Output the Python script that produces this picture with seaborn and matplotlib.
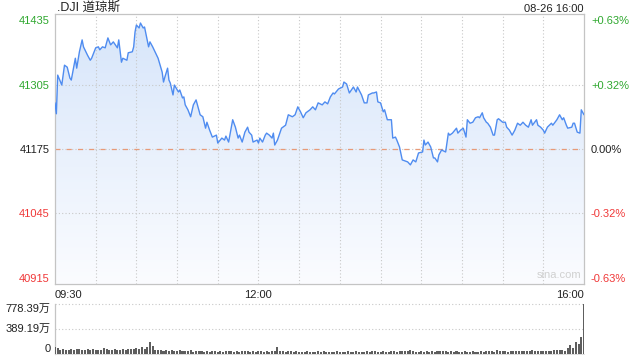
import numpy as np
import matplotlib
matplotlib.use("Agg")
import matplotlib.pyplot as plt
from matplotlib.colors import LinearSegmentedColormap
from matplotlib.patches import PathPatch
import seaborn as sns

# minutes after 09:30 and index level
minutes = [0, 1, 2, 5, 7, 9, 11, 12, 15, 16, 18, 20, 21, 24, 26, 27, 30, 32, 33, 35,
           37, 39, 41, 43, 46, 47, 49, 50, 53, 54, 57, 58, 59, 60, 62, 63, 65, 66, 69, 70,
           72, 75, 76, 79, 80, 81, 83, 84, 85, 87, 88, 91, 92, 94, 95, 96, 98, 100, 102, 104,
           105, 107, 109, 111, 112, 114, 116, 119, 120, 123, 125, 126, 128,
           131, 133, 135, 136, 138, 140, 142, 143, 145, 146, 149, 150, 151, 153, 155, 156, 158, 160,
           161, 162, 164, 167, 170, 172, 175, 177, 179, 181, 183, 185, 188, 190, 192, 194, 197, 199,
           201, 203, 205, 206, 209, 212, 213, 215, 217, 220, 222, 223, 226, 228, 230, 231, 234, 235,
           237, 238, 240, 242, 243, 245, 248, 249, 251, 252, 254, 256, 258, 260, 262, 264, 266, 268,
           271, 272, 273, 275, 277, 279, 280, 282, 283, 285, 288, 290, 291, 293, 296, 297, 299, 301,
           303, 304, 306, 308, 310, 312, 313, 315, 316, 318, 319, 321, 323, 324, 326, 327, 330, 332,
           333, 335, 337, 339, 341, 343, 345, 347, 349, 351, 352, 355, 356, 358, 360, 361, 363, 366,
           367, 370, 372, 374, 375, 377, 378, 381, 382, 383, 385, 387, 388, 390]
prices = [41268, 41246, 41324, 41304, 41344, 41340, 41318, 41314, 41358, 41338, 41371, 41395,
          41381, 41364, 41354, 41358, 41379, 41381, 41375, 41381, 41379, 41399, 41385, 41391,
          41379, 41395, 41350, 41358, 41354, 41369, 41371, 41381, 41411, 41425, 41419, 41429,
          41419, 41421, 41381, 41391, 41381, 41364, 41358, 41330, 41310, 41320, 41338, 41314,
          41308, 41284, 41304, 41290, 41294, 41278, 41280, 41264, 41254, 41240, 41264, 41274,
          41264, 41244, 41240, 41217, 41229, 41213, 41199, 41203, 41187, 41197, 41193, 41201, 41189,
          41234, 41219, 41197, 41203, 41189, 41209, 41219, 41209, 41203, 41189, 41193, 41187, 41197,
          41189, 41203, 41207, 41203, 41197, 41207, 41183, 41193, 41217, 41223, 41244, 41240, 41244,
          41260, 41250, 41238, 41248, 41254, 41260, 41254, 41268, 41264, 41270, 41266, 41280, 41288,
          41286, 41296, 41300, 41310, 41306, 41288, 41300, 41290, 41300, 41284, 41268, 41268, 41284,
          41288, 41288, 41290, 41270, 41268, 41250, 41254, 41234, 41234, 41197, 41199, 41193, 41179,
          41153, 41151, 41149, 41143, 41153, 41149, 41167, 41169, 41193, 41183, 41189, 41179, 41157,
          41157, 41149, 41163, 41173, 41169, 41207, 41203, 41207, 41217, 41207, 41213, 41217, 41199,
          41234, 41227, 41229, 41238, 41240, 41238, 41248, 41238, 41229, 41227, 41219, 41203, 41203,
          41234, 41236, 41229, 41229, 41219, 41213, 41203, 41213, 41227, 41223, 41229, 41223, 41219,
          41234, 41223, 41234, 41223, 41219, 41213, 41207, 41219, 41227, 41223, 41234, 41244, 41234,
          41238, 41223, 41217, 41219, 41227, 41227, 41209, 41207, 41254, 41244]

# volume (万) in 2-minute buckets from 09:30 to 16:00
volume = [110, 95, 70, 75, 60, 68, 80, 62, 75, 85, 70, 60, 78, 55, 72, 65, 60, 70, 98, 75,
          68, 60, 72, 65, 70, 80, 62, 78, 85, 72, 90, 80, 105, 85, 110, 187,
          125, 65, 55, 60, 50, 58, 48, 55, 52, 45, 60, 48, 50, 42, 55, 38, 45, 40, 48, 35,
          42, 38, 45, 40, 35, 42, 38, 45, 40,
          40, 35, 42, 38, 45, 40, 48, 36, 42, 38, 45, 40, 35, 42, 38, 40, 45, 109, 50, 42,
          38, 45, 40, 36, 42, 35, 38, 32, 40, 35, 38, 30, 42, 35, 40, 33, 38, 30, 35, 40,
          32, 38, 35, 42, 36, 33, 40, 35, 38, 32, 42, 36, 40, 45, 38, 35, 42, 38, 33, 40,
          45, 38, 42, 40, 48, 44,
          55, 40, 35, 38, 42, 36, 40, 35, 45, 38, 42, 48, 40, 45, 38, 42, 36, 40, 38, 35,
          42, 38, 33, 40, 36, 38, 42, 35, 40, 45, 42, 38, 55, 40, 45, 42, 38, 45, 50, 42,
          48, 40, 52, 45, 48, 55, 42, 50, 45, 48, 42, 50, 46, 55,
          55, 62, 60, 47, 95, 140, 100, 187, 150, 265, 778.39]
vol_minutes = list(range(0, 391, 2))

prev_close = 41175
price_ticks = [40915, 41045, 41175, 41305, 41435]
pct_labels = ["-0.63%", "-0.32%", "0.00%", "+0.32%", "+0.63%"]
time_ticks = [0, 150, 390]
time_labels = ["09:30", "12:00", "16:00"]
vol_ticks = [0, 389.19, 778.39]
vol_labels = ["0", "389.19万", "778.39万"]

sns.set_style("white")
plt.rcParams["font.family"] = ["Liberation Sans", "Noto Sans CJK SC", "DejaVu Sans"]

GREEN = "#2fa82f"
RED = "#f03838"
GRID = "#c8c8c8"
tick_colors = [RED, RED, "#222222", GREEN, GREEN]

fig = plt.figure(figsize=(6.4, 3.6), dpi=100)
ax = fig.add_axes([55 / 640, 1 - 284 / 360, 529 / 640, 270 / 360])
vax = fig.add_axes([55 / 640, 1 - 354 / 360, 529 / 640, 50 / 360])

ylo, yhi = 40902.8, 41447.2

# gradient fill under the line
fill = ax.fill_between(minutes, prices, ylo, color="none", lw=0)
clip = PathPatch(fill.get_paths()[0], transform=ax.transData, facecolor="none", edgecolor="none")
ax.add_patch(clip)
cmap = LinearSegmentedColormap.from_list("fade", ["#fbfcff", "#d6e5fa"])
grad = np.linspace(0, 1, 256).reshape(-1, 1)
im = ax.imshow(grad, extent=[0, 390, ylo, yhi], origin="lower", aspect="auto", cmap=cmap, zorder=1)
im.set_clip_path(clip)

sns.lineplot(x=minutes, y=prices, ax=ax, color="#4f8cf0", lw=1.0, zorder=3)

ax.set_xlim(0, 390)
ax.set_ylim(ylo, yhi)
for t in range(30, 390, 30):
    ax.axvline(t, color=GRID, lw=0.8, ls=(0, (1, 2)), zorder=2)
for p in price_ticks:
    if p == prev_close:
        ax.axhline(p, color=GRID, lw=0.8, ls=(0, (1, 2)), zorder=2)
        ax.axhline(p, color="#e89a78", lw=0.9, ls=(0, (4, 5)), zorder=2)
    elif p not in (price_ticks[0], price_ticks[-1]):
        ax.axhline(p, color=GRID, lw=0.8, ls=(0, (1, 2)), zorder=2)

ax.set_yticks(price_ticks)
ax.set_yticklabels([str(p) for p in price_ticks], fontsize=8)
for lab, c in zip(ax.get_yticklabels(), tick_colors):
    lab.set_color(c)
ax.set_xticks(time_ticks)
ax.set_xticklabels(time_labels, fontsize=8, color="#222222")
xl = ax.get_xticklabels()
xl[0].set_ha("left")
xl[2].set_ha("right")
ax.tick_params(axis="both", length=0, pad=4)
ax.set_xlabel("")
ax.set_ylabel("")
for s in ax.spines.values():
    s.set_color("#c4c4c4")
    s.set_linewidth(0.9)

rax = ax.twinx()
rax.set_ylim(ylo, yhi)
rax.set_yticks(price_ticks)
rax.set_yticklabels(pct_labels, fontsize=8)
for lab, c in zip(rax.get_yticklabels(), tick_colors):
    lab.set_color(c)
rax.tick_params(axis="y", length=0, pad=5)
for s in rax.spines.values():
    s.set_visible(False)

ax.text(0.004, 1.0, ".DJI 道琼斯", transform=ax.transAxes, fontsize=9, color="#222222",
        ha="left", va="bottom")
ax.text(1.0, 1.0, "08-26 16:00", transform=ax.transAxes, fontsize=8, color="#222222",
        ha="right", va="bottom")
ax.text(0.995, 0.015, "sina.com", transform=ax.transAxes, fontsize=8, color="#d0d0d0",
        ha="right", va="bottom")

# volume panel
vax.bar(vol_minutes, volume, width=1.5, color="#5e5e5e", align="center", zorder=3,
        linewidth=0, antialiased=False)
vax.set_xlim(0, 390)
vax.set_ylim(0, 778.39)
for v in vol_ticks[1:]:
    vax.axhline(v, color=GRID, lw=0.8, ls=(0, (1, 2)), zorder=1, clip_on=False)
vax.set_xticks([])
vax.set_yticks([])
for v, lab in zip(vol_ticks, vol_labels):
    va = "bottom" if v == 0 else ("top" if v == vol_ticks[-1] else "center")
    vax.text(-0.008, v, lab, transform=vax.get_yaxis_transform(), fontsize=8,
             color="#222222", ha="right", va=va)
for name, s in vax.spines.items():
    if name == "left":
        s.set_color("#c4c4c4")
        s.set_linewidth(0.9)
    elif name == "bottom":
        s.set_color("#d8d8d8")
        s.set_linewidth(0.6)
    else:
        s.set_visible(False)

fig.savefig("out.png", dpi=100)
